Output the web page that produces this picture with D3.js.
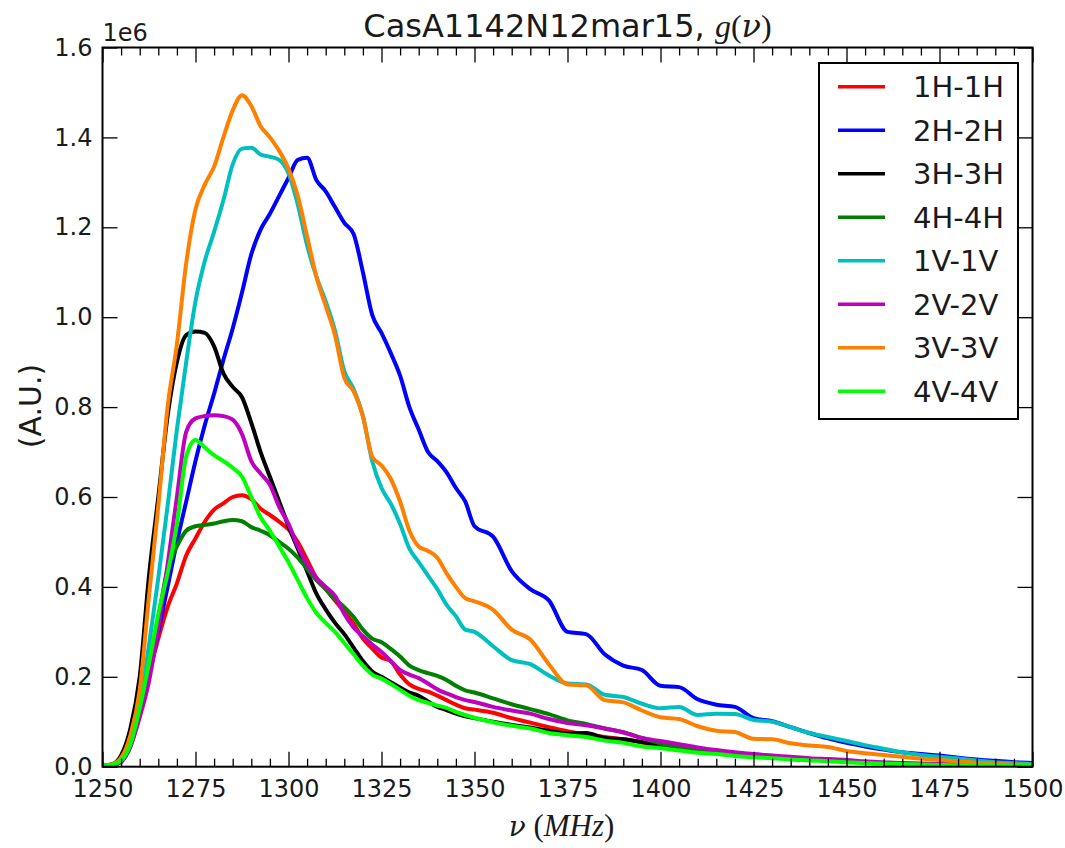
<!DOCTYPE html>
<html>
<head>
<meta charset="utf-8">
<script src="https://cdn.jsdelivr.net/npm/d3@7"></script>
<style>
  body { margin: 0; background: #fff; }
  svg { display: block; }
</style>
</head>
<body>
<svg id="chart" width="1065" height="848"></svg>
<script>
// frequency grid, MHz
const freqs = [1250, 1252.5, 1255, 1257.5, 1260, 1262.5, 1265, 1267.5, 1270, 1272.5,
  1275, 1277.5, 1280, 1282.5, 1285, 1287.5, 1290, 1292.5, 1295, 1297.5,
  1300, 1302.5, 1305, 1307.5, 1310, 1312.5, 1315, 1317.5, 1320, 1322.5,
  1325, 1327.5, 1330, 1332.5, 1335, 1337.5, 1340, 1342.5, 1345, 1347.5, 1350,
  1355, 1360, 1365, 1370, 1375, 1380, 1385, 1390, 1395, 1400,
  1405, 1410, 1415, 1420, 1425, 1430, 1435, 1440, 1445, 1450,
  1455, 1460, 1465, 1470, 1475, 1480, 1485, 1490, 1495, 1500];

// g(nu) per baseline, units of 1e6 A.U.
const h1h1 = [0.002, 0.004, 0.010, 0.050, 0.115, 0.205, 0.285, 0.355, 0.408, 0.470,
  0.508, 0.545, 0.572, 0.586, 0.600, 0.604, 0.595, 0.574, 0.560, 0.545,
  0.528, 0.500, 0.460, 0.420, 0.395, 0.370, 0.345, 0.318, 0.285, 0.263,
  0.243, 0.235, 0.205, 0.183, 0.173, 0.167, 0.158, 0.148, 0.138, 0.130, 0.127,
  0.120, 0.108, 0.098, 0.088, 0.079, 0.072, 0.066, 0.061, 0.054, 0.046,
  0.041, 0.037, 0.033, 0.029, 0.025, 0.022, 0.019, 0.016, 0.014, 0.012,
  0.010, 0.008, 0.007, 0.006, 0.005, 0.004, 0.003, 0.002, 0.002, 0.002];
const h2h2 = [0.002, 0.004, 0.012, 0.045, 0.120, 0.200, 0.300, 0.400, 0.500, 0.590,
  0.680, 0.760, 0.830, 0.905, 0.975, 1.055, 1.140, 1.195, 1.230, 1.270,
  1.310, 1.350, 1.355, 1.305, 1.280, 1.245, 1.210, 1.185, 1.100, 1.005,
  0.965, 0.920, 0.870, 0.800, 0.750, 0.700, 0.680, 0.655, 0.620, 0.590, 0.535,
  0.512, 0.435, 0.395, 0.370, 0.300, 0.295, 0.250, 0.225, 0.215, 0.180,
  0.177, 0.150, 0.138, 0.133, 0.108, 0.101, 0.088, 0.075, 0.063, 0.053,
  0.045, 0.038, 0.032, 0.028, 0.025, 0.020, 0.016, 0.013, 0.010, 0.008];
const h3h3 = [0.002, 0.005, 0.025, 0.085, 0.200, 0.425, 0.600, 0.780, 0.900, 0.960,
  0.968, 0.965, 0.935, 0.875, 0.845, 0.822, 0.765, 0.700, 0.645, 0.590,
  0.535, 0.485, 0.435, 0.385, 0.350, 0.320, 0.295, 0.265, 0.235, 0.212,
  0.200, 0.188, 0.176, 0.165, 0.158, 0.145, 0.133, 0.126, 0.118, 0.112, 0.108,
  0.100, 0.093, 0.087, 0.080, 0.074, 0.075, 0.064, 0.061, 0.055, 0.048,
  0.042, 0.037, 0.033, 0.029, 0.025, 0.022, 0.019, 0.016, 0.014, 0.012,
  0.010, 0.008, 0.006, 0.005, 0.004, 0.003, 0.002, 0.002, 0.001, 0.001];
const h4h4 = [0.002, 0.005, 0.018, 0.060, 0.120, 0.210, 0.330, 0.440, 0.490, 0.525,
  0.535, 0.538, 0.541, 0.546, 0.549, 0.546, 0.533, 0.525, 0.515, 0.500,
  0.485, 0.465, 0.440, 0.415, 0.395, 0.373, 0.355, 0.333, 0.305, 0.285,
  0.277, 0.262, 0.245, 0.225, 0.215, 0.208, 0.202, 0.193, 0.180, 0.170, 0.165,
  0.152, 0.139, 0.128, 0.117, 0.103, 0.095, 0.085, 0.077, 0.064, 0.052,
  0.044, 0.037, 0.033, 0.030, 0.026, 0.023, 0.020, 0.017, 0.015, 0.012,
  0.010, 0.008, 0.007, 0.006, 0.005, 0.004, 0.003, 0.003, 0.002, 0.002];
const v1v1 = [0.002, 0.004, 0.012, 0.050, 0.140, 0.270, 0.420, 0.580, 0.750, 0.900,
  1.035, 1.125, 1.190, 1.260, 1.340, 1.375, 1.377, 1.362, 1.357, 1.350,
  1.320, 1.250, 1.160, 1.090, 1.035, 0.970, 0.880, 0.840, 0.780, 0.680,
  0.620, 0.585, 0.540, 0.485, 0.455, 0.425, 0.395, 0.360, 0.335, 0.305, 0.300,
  0.268, 0.237, 0.228, 0.203, 0.185, 0.183, 0.160, 0.155, 0.140, 0.130,
  0.133, 0.115, 0.118, 0.117, 0.104, 0.100, 0.088, 0.075, 0.066, 0.057,
  0.048, 0.040, 0.032, 0.026, 0.022, 0.018, 0.014, 0.010, 0.008, 0.006];
const v2v2 = [0.002, 0.004, 0.012, 0.045, 0.110, 0.190, 0.310, 0.450, 0.600, 0.745,
  0.775, 0.780, 0.782, 0.780, 0.772, 0.740, 0.680, 0.652, 0.627, 0.578,
  0.540, 0.490, 0.450, 0.420, 0.400, 0.380, 0.340, 0.310, 0.290, 0.272,
  0.255, 0.235, 0.215, 0.205, 0.197, 0.185, 0.172, 0.163, 0.155, 0.148, 0.144,
  0.133, 0.125, 0.118, 0.106, 0.097, 0.092, 0.085, 0.076, 0.064, 0.057,
  0.050, 0.043, 0.037, 0.032, 0.028, 0.025, 0.022, 0.019, 0.017, 0.015,
  0.012, 0.010, 0.008, 0.007, 0.006, 0.005, 0.004, 0.003, 0.003, 0.002];
const v3v3 = [0.002, 0.005, 0.020, 0.070, 0.170, 0.380, 0.580, 0.800, 0.940, 1.120,
  1.240, 1.295, 1.335, 1.400, 1.460, 1.494, 1.470, 1.425, 1.400, 1.370,
  1.330, 1.270, 1.180, 1.090, 1.025, 0.960, 0.865, 0.835, 0.779, 0.690,
  0.670, 0.640, 0.590, 0.525, 0.490, 0.480, 0.465, 0.430, 0.400, 0.375, 0.368,
  0.349, 0.305, 0.283, 0.228, 0.183, 0.181, 0.148, 0.143, 0.125, 0.110,
  0.106, 0.090, 0.080, 0.077, 0.062, 0.061, 0.052, 0.047, 0.044, 0.035,
  0.030, 0.026, 0.022, 0.018, 0.015, 0.012, 0.009, 0.007, 0.005, 0.004];
const v4v4 = [0.002, 0.004, 0.014, 0.050, 0.130, 0.230, 0.340, 0.430, 0.540, 0.690,
  0.727, 0.710, 0.693, 0.680, 0.665, 0.645, 0.600, 0.555, 0.525, 0.490,
  0.455, 0.415, 0.375, 0.342, 0.320, 0.300, 0.275, 0.250, 0.225, 0.205,
  0.196, 0.184, 0.171, 0.158, 0.148, 0.142, 0.136, 0.131, 0.122, 0.115, 0.109,
  0.099, 0.091, 0.085, 0.075, 0.070, 0.066, 0.058, 0.053, 0.045, 0.041,
  0.036, 0.031, 0.028, 0.024, 0.021, 0.019, 0.016, 0.014, 0.012, 0.010,
  0.008, 0.007, 0.006, 0.005, 0.004, 0.003, 0.003, 0.002, 0.002, 0.002];

const labels = ["1H-1H", "2H-2H", "3H-3H", "4H-4H", "1V-1V", "2V-2V", "3V-3V", "4V-4V"];
const xTicks = [1250, 1275, 1300, 1325, 1350, 1375, 1400, 1425, 1450, 1475, 1500];
const xMinorTicks = [1255, 1260, 1265, 1270, 1280, 1285, 1290, 1295, 1305, 1310, 1315, 1320,
  1330, 1335, 1340, 1345, 1355, 1360, 1365, 1370, 1380, 1385, 1390, 1395,
  1405, 1410, 1415, 1420, 1430, 1435, 1440, 1445, 1455, 1460, 1465, 1470,
  1480, 1485, 1490, 1495];
const yTicks = [0, 0.2, 0.4, 0.6, 0.8, 1.0, 1.2, 1.4, 1.6];

const colors = ["#ff0000", "#0000ff", "#000000", "#008000", "#00bfbf", "#bf00bf", "#ff8000", "#00ff00"];
const allSeries = [h1h1, h2h2, h3h3, h4h4, v1v1, v2v2, v3v3, v4v4];

// plot box
const plotLeft = 102.5, plotRight = 1032.5, plotTop = 47.5, plotBottom = 766.7;
const tickFont = "DejaVu Sans";
const mathFont = "Liberation Serif";
const nuFont = "DejaVu Serif";

const svg = d3.select("#chart");

const xScale = d3.scaleLinear().domain([1250, 1500]).range([plotLeft, plotRight]);
const yScale = d3.scaleLinear().domain([0, 1.6]).range([plotBottom, plotTop]);

svg.append("defs").append("clipPath").attr("id", "plotclip")
   .append("rect")
   .attr("x", plotLeft).attr("y", plotTop)
   .attr("width", plotRight - plotLeft).attr("height", plotBottom - plotTop);

// curves
const line = d3.line()
   .x((d, i) => xScale(freqs[i]))
   .y(d => yScale(d))
   .curve(d3.curveMonotoneX);

svg.append("g")
   .attr("clip-path", "url(#plotclip)")
   .selectAll("path")
   .data(allSeries)
   .enter()
   .append("path")
   .attr("d", d => line(d))
   .attr("fill", "none")
   .attr("stroke", (d, i) => colors[i])
   .attr("stroke-width", 4)
   .attr("stroke-linejoin", "round")
   .attr("stroke-linecap", "round");

// axes, ticks pointing inward like classic matplotlib
function styleAxis(g) {
  g.select(".domain").remove();
  g.selectAll(".tick line").attr("stroke", "#000").attr("stroke-width", 1.3);
  g.selectAll(".tick text")
   .attr("fill", "#1a1a1a")
   .style("font-family", tickFont)
   .style("font-size", "24px");
}

svg.append("g")
   .attr("transform", `translate(0,${plotBottom})`)
   .call(d3.axisBottom(xScale).tickValues(xTicks).tickSizeInner(-15).tickSizeOuter(0)
         .tickPadding(13).tickFormat(d3.format("d")))
   .call(styleAxis);
svg.append("g")
   .attr("transform", `translate(0,${plotBottom})`)
   .call(d3.axisBottom(xScale).tickValues(xMinorTicks).tickSizeInner(-8).tickSizeOuter(0).tickFormat(""))
   .call(styleAxis);
svg.append("g")
   .attr("transform", `translate(0,${plotTop})`)
   .call(d3.axisTop(xScale).tickValues(xTicks).tickSizeInner(-15).tickSizeOuter(0).tickFormat(""))
   .call(styleAxis);
svg.append("g")
   .attr("transform", `translate(0,${plotTop})`)
   .call(d3.axisTop(xScale).tickValues(xMinorTicks).tickSizeInner(-8).tickSizeOuter(0).tickFormat(""))
   .call(styleAxis);
svg.append("g")
   .attr("transform", `translate(${plotLeft},0)`)
   .call(d3.axisLeft(yScale).tickValues(yTicks).tickSizeInner(-15).tickSizeOuter(0)
         .tickPadding(10).tickFormat(d3.format(".1f")))
   .call(styleAxis);
svg.append("g")
   .attr("transform", `translate(${plotRight},0)`)
   .call(d3.axisRight(yScale).tickValues(yTicks).tickSizeInner(-15).tickSizeOuter(0).tickFormat(""))
   .call(styleAxis);

// frame
svg.append("rect")
   .attr("x", plotLeft).attr("y", plotTop)
   .attr("width", plotRight - plotLeft).attr("height", plotBottom - plotTop)
   .attr("fill", "none")
   .attr("stroke", "#000")
   .attr("stroke-width", 2);

// offset text
svg.append("text")
   .attr("x", plotLeft).attr("y", 41)
   .style("font-family", tickFont).style("font-size", "24px")
   .attr("fill", "#1a1a1a")
   .text("1e6");

// title
const title = svg.append("text")
   .attr("x", (plotLeft + plotRight) / 2).attr("y", 37)
   .attr("text-anchor", "middle")
   .attr("fill", "#1a1a1a")
   .style("font-family", tickFont).style("font-size", "32px");
title.append("tspan").text("CasA1142N12mar15, ");
title.append("tspan").style("font-family", mathFont).style("font-style", "italic").text("g");
title.append("tspan").style("font-family", mathFont).text("(");
title.append("tspan").style("font-family", nuFont).style("font-style", "italic").text("ν");
title.append("tspan").style("font-family", mathFont).text(")");

// x label
const xLabel = svg.append("text")
   .attr("x", (plotLeft + plotRight) / 2 - 6).attr("y", 836)
   .attr("text-anchor", "middle")
   .attr("fill", "#1a1a1a")
   .style("font-family", mathFont).style("font-size", "31px");
xLabel.append("tspan").style("font-family", nuFont).style("font-style", "italic")
   .style("font-size", "28px").text("ν");
xLabel.append("tspan").text(" (");
xLabel.append("tspan").style("font-style", "italic").text("MHz");
xLabel.append("tspan").text(")");

// y label
svg.append("text")
   .attr("transform", "translate(41,406) rotate(-90)")
   .attr("text-anchor", "middle")
   .attr("fill", "#1a1a1a")
   .style("font-family", tickFont).style("font-size", "30px")
   .text("(A.U.)");

// legend
const legend = svg.append("g");
legend.append("rect")
   .attr("x", 819).attr("y", 63)
   .attr("width", 199).attr("height", 356)
   .attr("fill", "#fff")
   .attr("stroke", "#000")
   .attr("stroke-width", 2);

const rows = legend.selectAll("g.row")
   .data(labels)
   .enter()
   .append("g")
   .attr("class", "row")
   .attr("transform", (d, i) => `translate(0,${86.7 + i * 43.5})`);
rows.append("line")
   .attr("x1", 838).attr("x2", 885)
   .attr("stroke", (d, i) => colors[i])
   .attr("stroke-width", 3.5);
rows.append("text")
   .attr("x", 913).attr("dy", "0.36em")
   .attr("fill", "#1a1a1a")
   .style("font-family", tickFont).style("font-size", "29px")
   .text(d => d);
</script>
</body>
</html>
